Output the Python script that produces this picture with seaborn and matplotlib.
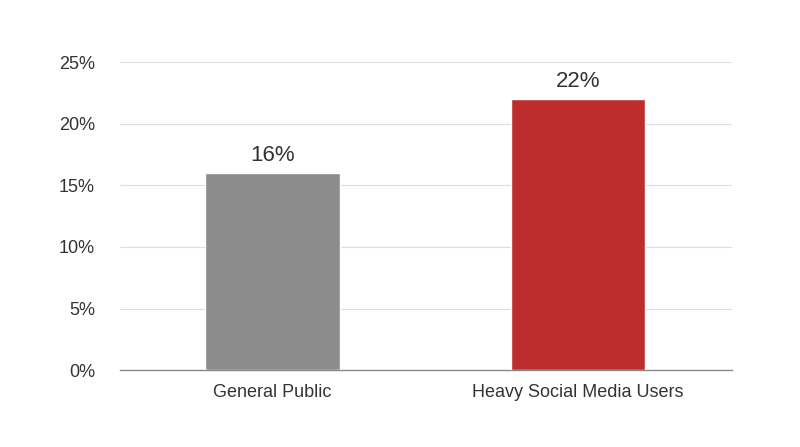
import matplotlib
matplotlib.use("Agg")
import matplotlib.pyplot as plt
import seaborn as sns
import pandas as pd

categories = ["General Public", "Heavy Social Media Users"]
values = [16, 22]
colors = ["#8c8c8c", "#d61516"]
yticks = [0, 5, 10, 15, 20, 25]

sns.set_theme(style="white")
plt.rcParams['font.family'] = ['Liberation Sans', 'DejaVu Sans']

fig = plt.figure(figsize=(8, 4.47), dpi=100)
ax = fig.add_axes([0.15, 0.172, 0.765, 0.689])
df = pd.DataFrame({"cat": categories, "val": values})
sns.barplot(data=df, x="cat", y="val", hue="cat", palette=colors, width=0.44,
            legend=False, ax=ax, zorder=3)
ax.set_xlim(-0.5, 1.505)
ax.set_ylim(0, 25)
ax.set_yticks(yticks)
ax.set_yticklabels([f"{t}%" for t in yticks], fontsize=13, color="#333333")
ax.tick_params(axis='x', labelsize=13, colors="#333333", length=0, pad=10)
ax.tick_params(axis='y', length=0, pad=18)
ax.set_xlabel("")
ax.set_ylabel("")
ax.grid(axis='y', color="#dddddd", linewidth=0.8, zorder=0)
for s in ["top", "right", "left"]:
    ax.spines[s].set_visible(False)
ax.spines["bottom"].set_color("#888888")
ax.spines["bottom"].set_linewidth(1)
for i, v in enumerate(values):
    ax.text(i, v + 0.6, f"{v}%", ha="center", va="bottom", fontsize=16, color="#333333")
fig.savefig("out.png", dpi=100)
